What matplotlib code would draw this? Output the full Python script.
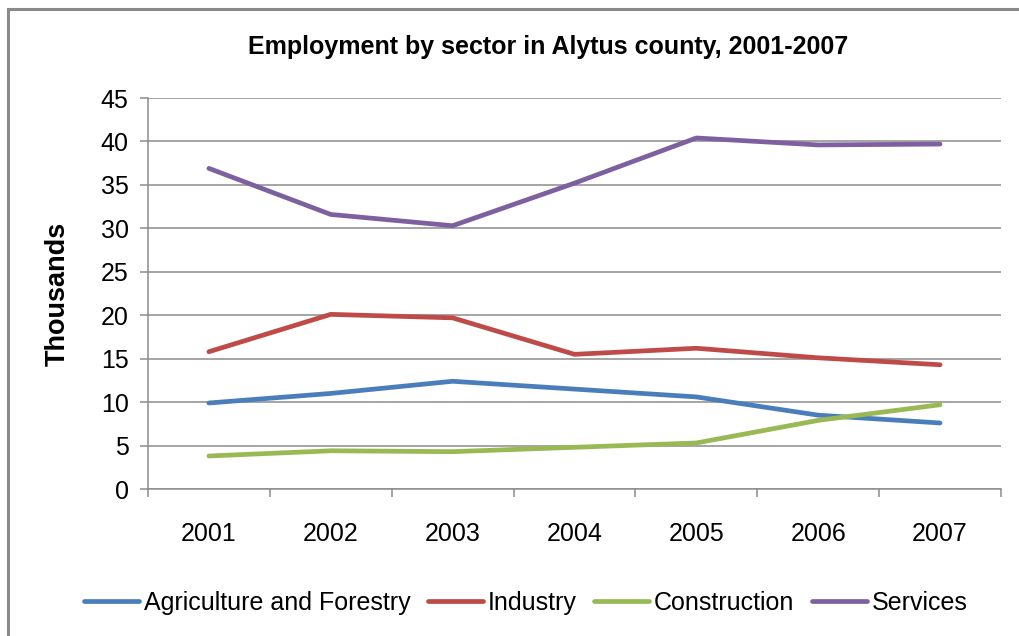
import matplotlib.pyplot as plt
from matplotlib.patches import Rectangle

plt.rcParams['font.family'] = ['Liberation Sans', 'DejaVu Sans']

years = ['2001', '2002', '2003', '2004', '2005', '2006', '2007']
agriculture = [9.9, 11.0, 12.4, 11.5, 10.6, 8.5, 7.6]
industry = [15.8, 20.1, 19.7, 15.5, 16.2, 15.1, 14.3]
construction = [3.8, 4.4, 4.3, 4.8, 5.3, 7.9, 9.7]
services = [36.9, 31.6, 30.3, 35.2, 40.4, 39.6, 39.7]

fig = plt.figure(figsize=(10.19, 6.36), dpi=100)
ax = fig.add_axes([0.1452, 0.2311, 0.8371, 0.6148])

# chart border
fig.patches.append(Rectangle((8 / 1019, -0.1), 1.2, 1.1 - 9 / 636,
                             transform=fig.transFigure, fill=False,
                             edgecolor='#8a8a8a', linewidth=2.2))

x = range(len(years))
lw = 3.4
ax.plot(x, agriculture, color='#4a7ebb', lw=lw, solid_capstyle='round', solid_joinstyle='round', label='Agriculture and Forestry')
ax.plot(x, industry, color='#be4b48', lw=lw, solid_capstyle='round', solid_joinstyle='round', label='Industry')
ax.plot(x, construction, color='#98b954', lw=lw, solid_capstyle='round', solid_joinstyle='round', label='Construction')
ax.plot(x, services, color='#7d60a0', lw=lw, solid_capstyle='round', solid_joinstyle='round', label='Services')

ax.set_xlim(-0.5, len(years) - 0.5)
ax.set_ylim(0, 45)
ax.set_yticks(range(0, 46, 5))
ax.set_xticks(list(x))
ax.set_xticklabels(years)
ax.set_xticks([i - 0.5 for i in range(len(years) + 1)], minor=True)

ax.grid(axis='y', color='#8c8c8c', linewidth=1.1)
ax.set_axisbelow(True)
for s in ['top', 'right']:
    ax.spines[s].set_visible(False)
for s in ['left', 'bottom']:
    ax.spines[s].set_color('#8c8c8c')
    ax.spines[s].set_linewidth(1.1)

ax.tick_params(axis='y', length=6, width=1.1, color='#8c8c8c', pad=8, labelsize=18)
ax.tick_params(axis='x', which='major', length=0, pad=24, labelsize=18)
ax.tick_params(axis='x', which='minor', length=6, width=1.1, color='#8c8c8c')

ax.set_ylabel('Thousands', fontsize=19.5, fontweight='bold')
ax.yaxis.set_label_coords(-0.091, 0.5)

fig.text(0.538, 0.926, 'Employment by sector in Alytus county, 2001-2007',
         ha='center', va='center', fontsize=18, fontweight='bold')

fig.legend(loc='center', bbox_to_anchor=(0.516, 0.052), ncol=4, frameon=False,
           fontsize=18, handlelength=2.2, handletextpad=0.2, columnspacing=0.7)

fig.savefig('out.png', dpi=100)
